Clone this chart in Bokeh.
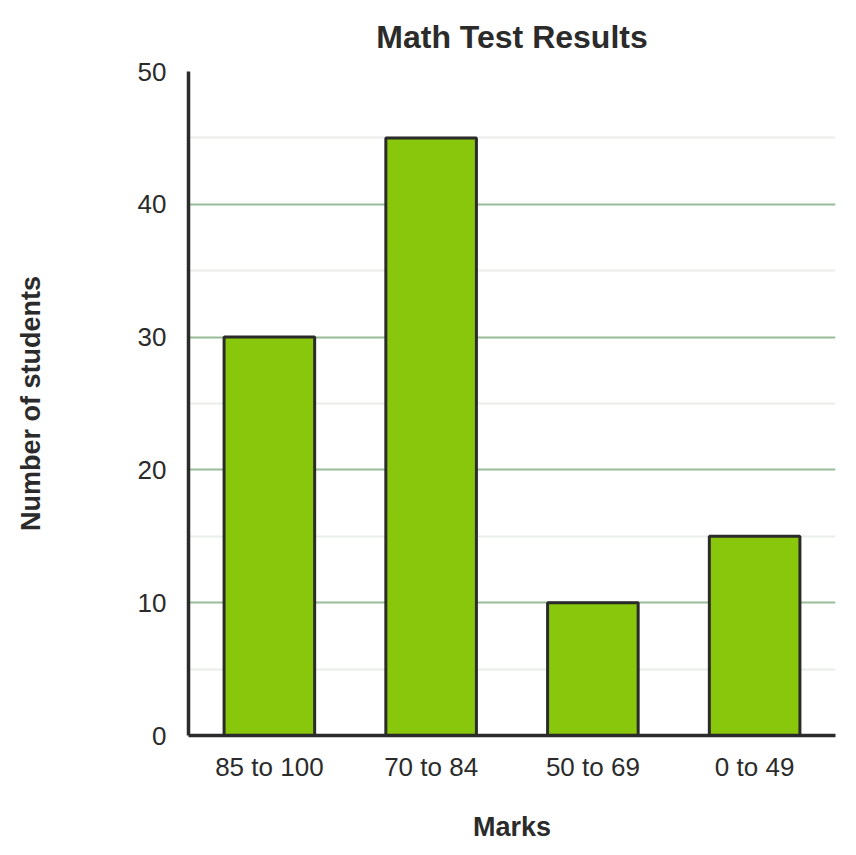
from bokeh.plotting import figure
from bokeh.models import Range1d, FixedTicker
from bokeh.embed import file_html
from bokeh.resources import INLINE

categories = ["85 to 100", "70 to 84", "50 to 69", "0 to 49"]
students = [30, 45, 10, 15]
y_ticks = [0, 10, 20, 30, 40, 50]
y_minor = [5, 15, 25, 35, 45]

FONT = "Liberation Sans"

p = figure(x_range=categories, y_range=Range1d(0, 50), width=848, height=844,
           output_backend="svg", toolbar_location=None, title="Math Test Results",
           min_border_left=188, min_border_right=13, min_border_top=71, min_border_bottom=100)

p.vbar(x=categories, top=students, width=0.56, fill_color="#88c70b",
       line_color="#2b2b2b", line_width=3)

p.title.align = "center"
p.title.vertical_align = "middle"
p.title.text_font = FONT
p.title.text_font_size = "32px"
p.title.text_font_style = "bold"
p.title.text_color = "#2b2b2b"
p.title.offset = 0
p.title.standoff = 32

p.outline_line_color = None

p.yaxis.ticker = FixedTicker(ticks=y_ticks, minor_ticks=y_minor)
p.yaxis.axis_label = "Number of students"
p.xaxis.axis_label = "Marks"
for ax in (p.xaxis, p.yaxis):
    ax.axis_line_color = "#2b2b2b"
    ax.axis_line_width = 3.5
    ax.major_tick_line_color = None
    ax.minor_tick_line_color = None
    ax.major_label_text_font = FONT
    ax.major_label_text_color = "#2b2b2b"
    ax.axis_label_text_font = FONT
    ax.axis_label_text_font_style = "bold"
    ax.axis_label_text_font_size = "27px"
    ax.axis_label_text_color = "#2b2b2b"

p.yaxis.major_label_text_font_size = "26px"
p.yaxis.major_label_standoff = 16
p.yaxis.axis_label_standoff = 89
p.xaxis.major_label_text_font_size = "26px"
p.xaxis.major_label_standoff = 10
p.xaxis.axis_label_standoff = 27

p.xgrid.grid_line_color = None
p.ygrid.grid_line_color = "#98bc98"
p.ygrid.grid_line_width = 2
p.ygrid.minor_grid_line_color = "#e8eee8"
p.ygrid.minor_grid_line_width = 2

open("out.html", "w").write(file_html(p, INLINE))
